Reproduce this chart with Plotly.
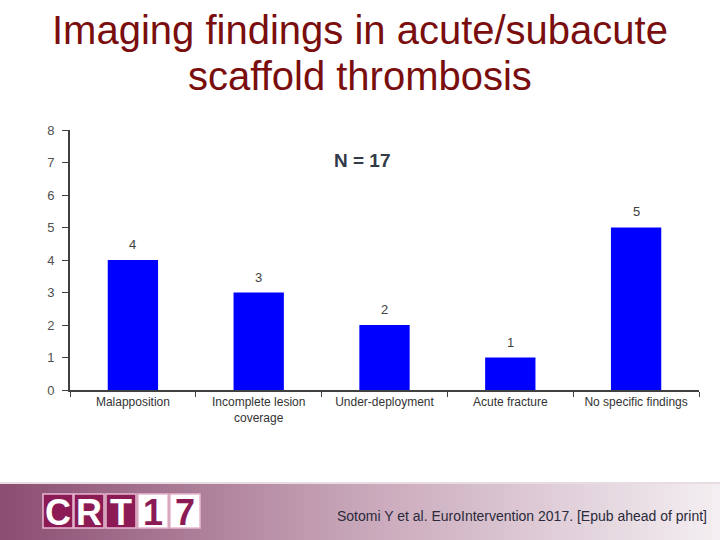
import plotly.graph_objects as go

categories = ["Malapposition", "Incomplete lesion<br>coverage", "Under-deployment", "Acute fracture", "No specific findings"]
values = [4, 3, 2, 1, 5]
y_ticks = [0, 1, 2, 3, 4, 5, 6, 7, 8]

W, H = 720, 540
def px(x): return x / W
def py(y): return 1 - y / H

fig = go.Figure()
fig.add_trace(go.Bar(
    x=categories, y=values, marker=dict(color="#0000FF", line=dict(width=0)),
    width=0.4,
))

shapes = []
annotations = []
# data labels
for c, v in zip(categories, values):
    annotations.append(dict(x=c, y=v, xref="x", yref="y", text=str(v), showarrow=False,
                            xanchor="center", yanchor="bottom", yshift=6,
                            font=dict(family="Liberation Sans, Arial", size=13, color="#404040")))

# footer gradient
n = 90
c0 = (0x8C, 0x4E, 0x72)
c1 = (0xC9, 0xA7, 0xBA)
c2 = (0xF3, 0xEE, 0xF1)
for i in range(n):
    t = i / (n - 1)
    if t < 0.5:
        u = t / 0.5
        c = tuple(int(c0[k] + (c1[k] - c0[k]) * u) for k in range(3))
    else:
        u = (t - 0.5) / 0.5
        c = tuple(int(c1[k] + (c2[k] - c1[k]) * u) for k in range(3))
    shapes.append(dict(type="rect", xref="paper", yref="paper",
                       x0=i / n, x1=(i + 1) / n + 0.002, y0=0, y1=py(483),
                       fillcolor="rgb(%d,%d,%d)" % c, line=dict(width=0), layer="below"))
shapes.append(dict(type="line", xref="paper", yref="paper", x0=0, x1=1, y0=py(483), y1=py(483),
                   line=dict(color="#E8DCE3", width=2)))

# logo boxes
letters = ["C", "R", "T", "1", "7"]
bx = [43, 74, 106, 138, 170]
for i, (L, x0) in enumerate(zip(letters, bx)):
    dark = i < 3
    shapes.append(dict(type="rect", xref="paper", yref="paper",
                       x0=px(x0), x1=px(x0 + 30), y0=py(528), y1=py(494),
                       fillcolor="#8B1A55" if dark else "#FFFFFF",
                       line=dict(color="#E8B8D0", width=1.5)))
    annotations.append(dict(x=px(x0 + 15), y=py(512), xref="paper", yref="paper",
                            xanchor="center", yanchor="middle",
                            text="<b>%s</b>" % L, showarrow=False,
                            font=dict(family="Liberation Sans Narrow, Arial Narrow, Arial", size=36,
                                      color="#FFFFFF" if dark else "#8B1A55")))

annotations.append(dict(x=px(709), y=py(516), xref="paper", yref="paper",
                        xanchor="right", yanchor="middle",
                        text="Sotomi Y et al. EuroIntervention 2017. [Epub ahead of print]",
                        showarrow=False,
                        font=dict(family="Liberation Sans, Arial", size=14, color="#2A2A3A")))
annotations.append(dict(x=px(362), y=py(160), xref="paper", yref="paper",
                        xanchor="center", yanchor="middle",
                        text="<b>N = 17</b>", showarrow=False,
                        font=dict(family="Liberation Sans, Arial", size=19, color="#333A48")))
for txt, yy in [("Imaging findings in acute/subacute", 30), ("scaffold thrombosis", 76)]:
    annotations.append(dict(x=0.5, y=py(yy), xref="paper", yref="paper",
                            xanchor="center", yanchor="middle",
                            text=txt, showarrow=False,
                            font=dict(family="Liberation Sans, Arial", size=40, color="#7A0E0E")))

fig.update_layout(
    template="none",
    width=W, height=H, margin=dict(l=0, r=0, t=0, b=0, pad=0),
    paper_bgcolor="white", plot_bgcolor="white", showlegend=False,
    shapes=shapes, annotations=annotations,
    xaxis=dict(domain=[px(70), px(699)], range=[-0.5, 4.5], showgrid=False, automargin=False,
               showline=True, linecolor="#404040", linewidth=2, zeroline=False,
               ticks="outside", tickson="boundaries", ticklen=5, tickcolor="#404040",
               tickfont=dict(family="Liberation Sans, Arial", size=12, color="#333333")),
    yaxis=dict(domain=[py(390), py(130)], range=[0, 8], tickvals=y_ticks, automargin=False,
               showgrid=False, zeroline=False,
               showline=True, linecolor="#404040", linewidth=2,
               ticks="outside", ticklen=6, tickcolor="#404040", ticklabelstandoff=5,
               tickfont=dict(family="Liberation Sans, Arial", size=13, color="#505050")),
)

fig.write_html("out.html", config={"displayModeBar": False},
               post_script="document.body.style.margin='0';document.body.style.overflow='hidden';")
